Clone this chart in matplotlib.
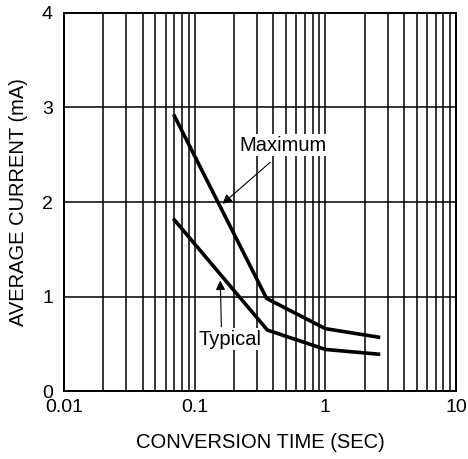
import matplotlib
matplotlib.use("Agg")
import matplotlib.pyplot as plt
from matplotlib.ticker import LogLocator, NullFormatter, FixedLocator

plt.rcParams["font.family"] = ["Liberation Sans", "DejaVu Sans"]

# conversion time (s) vs. average current (mA)
max_time = [0.07, 0.355, 1.0, 2.55]
max_current = [2.91, 0.98, 0.66, 0.57]
typ_time = [0.07, 0.36, 1.0, 2.55]
typ_current = [1.81, 0.645, 0.44, 0.39]

x_ticks = [0.01, 0.1, 1, 10]
x_tick_labels = ["0.01", "0.1", "1", "10"]
y_ticks = [0, 1, 2, 3, 4]

fig = plt.figure(figsize=(4.68, 4.59), dpi=100)
ax = fig.add_axes([0.1368, 0.1481, 0.8376, 0.8236])

ax.set_xscale("log")
ax.set_xlim(0.01, 10)
ax.set_ylim(0, 4)

ax.xaxis.set_major_locator(FixedLocator(x_ticks))
ax.set_xticklabels(x_tick_labels)
ax.xaxis.set_minor_locator(LogLocator(base=10, subs=range(2, 10)))
ax.xaxis.set_minor_formatter(NullFormatter())
ax.set_yticks(y_ticks)

ax.grid(True, which="both", axis="x", color="black", lw=1.1)
ax.grid(True, which="major", axis="y", color="black", lw=1.1)
ax.tick_params(which="both", length=0, labelsize=14)
ax.tick_params(axis="x", pad=6)
ax.tick_params(axis="y", pad=8)
for s in ax.spines.values():
    s.set_linewidth(1.4)

ax.plot(max_time, max_current, color="black", lw=2.6, solid_joinstyle="miter")
ax.plot(typ_time, typ_current, color="black", lw=2.6, solid_joinstyle="miter")

box = dict(facecolor="white", edgecolor="none", pad=1)
ax.text(0.47, 2.6, "Maximum", fontsize=14.5, ha="center", va="center", bbox=box, zorder=5)
ax.annotate("", xy=(0.163, 1.98), xytext=(0.378, 2.42),
            arrowprops=dict(arrowstyle="-|>", color="black", lw=0.8,
                            mutation_scale=14, shrinkA=0, shrinkB=0), zorder=5)
ax.text(0.186, 0.55, "Typical", fontsize=14.5, ha="center", va="center", bbox=box, zorder=5)
ax.annotate("", xy=(0.157, 1.17), xytext=(0.16, 0.68),
            arrowprops=dict(arrowstyle="-|>", color="black", lw=0.8,
                            mutation_scale=14, shrinkA=0, shrinkB=0), zorder=5)

ax.set_xlabel("CONVERSION TIME (SEC)", fontsize=14.5, labelpad=12)
ax.set_ylabel("AVERAGE CURRENT (mA)", fontsize=14.5, labelpad=10)

fig.savefig("out.png", dpi=100)
